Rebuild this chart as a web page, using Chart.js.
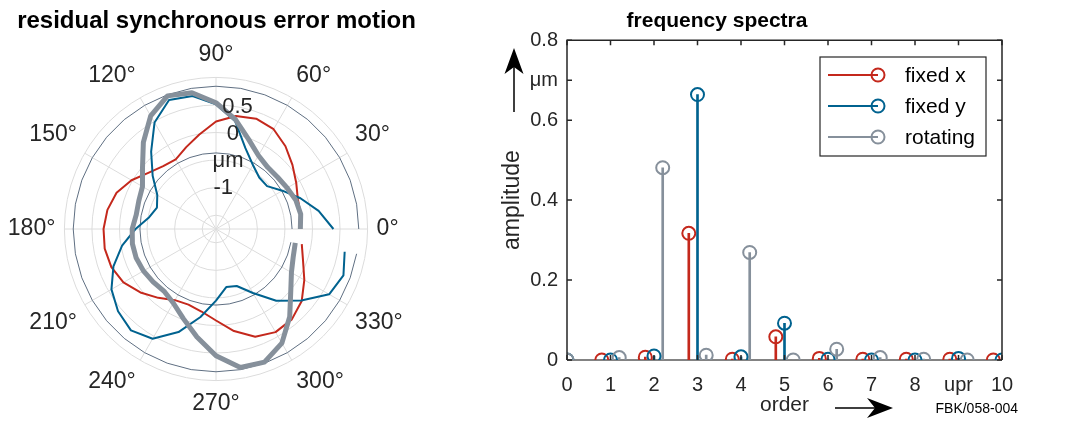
<!DOCTYPE html>
<html>
<head>
<meta charset="utf-8">
<script src="https://cdn.jsdelivr.net/npm/chart.js@4.4.1/dist/chart.umd.min.js"></script>
<style>
    body { margin: 0; background: #fff; }
    #polarBox { position: absolute; left: 0; top: 0; width: 433px; height: 421px; }
    #spectraBox { position: absolute; left: 432px; top: 0; width: 649px; height: 421px; }
</style>
</head>
<body>
<div id="polarBox"><canvas id="chartPolar" width="433" height="421"></canvas></div>
<div id="spectraBox"><canvas id="chartSpectra" width="649" height="421"></canvas></div>
<script>
/* --- polar plot data: radius in µm, every 10 deg ------------------------- */
const angles = [0, 10, 20, 30, 40, 50, 60, 70, 80, 90, 100, 110, 120, 130, 140, 150, 160, 170,
    180, 190, 200, 210, 220, 230, 240, 250, 260, 270, 280, 290, 300, 310, 320, 330, 340, 350];

const polarFixedX = [-0.21, -0.19, -0.17, -0.07, 0.06, 0.21, 0.34, 0.38, 0.33, 0.20,
    -0.01, -0.17, -0.29, -0.26, -0.16, 0.02, 0.17, 0.25, 0.29, 0.30,
    0.27, 0.19, 0.04, -0.12, -0.26, -0.29, -0.23, -0.09, 0.13, 0.33,
    0.41, 0.39, 0.28, 0.10, -0.07, -0.17];

const polarFixedY = [0.38, 0.14, -0.12, -0.36, -0.54, -0.53, -0.41, -0.19, 0.24, 0.51,
    0.70, 0.74, 0.48, 0.08, -0.25, -0.52, -0.61, -0.52, -0.29, -0.02,
    0.23, 0.44, 0.57, 0.65, 0.55, 0.24, -0.13, -0.45, -0.68, -0.65,
    -0.41, -0.05, 0.27, 0.62, 0.71, 0.62];

const polarRotating = [-0.22, -0.19, -0.21, -0.26, -0.29, -0.29, -0.21, -0.02, 0.27, 0.54,
    0.76, 0.82, 0.62, 0.30, -0.01, -0.21, -0.26, -0.28, -0.23, -0.21,
    -0.21, -0.23, -0.26, -0.28, -0.20, -0.02, 0.24, 0.55, 0.80, 0.82,
    0.64, 0.33, 0.02, -0.17, -0.26, -0.29];

const refCircleOuter = 0.84;
const refCircleInner = -0.37;

const rGridValues = [-1.75, -1.5, -1, -0.5, 0, 0.5, 1];
const rLabelValues = [-1, -0.5, 0, 0.5];
const rLabelTexts = ['-1', 'μm', '0', '0.5'];

/* --- spectrum data ------------------------------------------------------- */
const orders = [0, 1, 2, 3, 4, 5, 6, 7, 8, 9, 10];
const orderLabels = ['0', '1', '2', '3', '4', '5', '6', '7', '8', 'upr', '10'];
const ampFixedX = [null, 0.000, 0.007, 0.317, 0.002, 0.058, 0.004, 0.002, 0.002, 0.002, 0.000];
const ampFixedY = [0.000, 0.000, 0.010, 0.664, 0.008, 0.092, 0.002, 0.000, 0.000, 0.004, 0.000];
const ampRotating = [0.000, 0.006, 0.481, 0.012, 0.269, 0.000, 0.027, 0.006, 0.002, 0.000, null];
const yTickValues = [0, 0.2, 0.4, 0.6, 0.7, 0.8];
const yTickLabels = ['0', '0.2', '0.4', '0.6', 'μm', '0.8'];

/* --- styles ---------------------------------------------------------------- */
const RED = '#c4281c';
const BLUE = '#00628f';
const GRAY = '#86909b';
const REF = '#5f6f82';
const TXT = '#262626';
const FONT = '"Liberation Sans", Arial, sans-serif';

Chart.defaults.font.family = FONT;
Chart.defaults.color = TXT;
Chart.defaults.animation = false;

/* --- polar chart (radar, clockwise from 350 deg down to 0 deg) ------------ */
const radarAngles = angles.map((a, i) => 350 - 10 * i);
// radar index i sits at angle 350 - 10 i; trailing null keeps the curve open at 350..360
const toRadar = vals => [...vals].reverse().concat([null]);
const circle = v => toRadar(angles.map(() => v));

const radialLabels = {
    id: 'radialLabels',
    afterDatasetsDraw(chart) {
        const r = chart.scales.r;
        const a = 80 * Math.PI / 180;
        const ctx = chart.ctx;
        ctx.save();
        ctx.font = '22px ' + FONT;
        ctx.fillStyle = TXT;
        ctx.textAlign = 'center';
        ctx.textBaseline = 'middle';
        rLabelValues.forEach((v, i) => {
            const d = r.getDistanceFromCenterForValue(v);
            ctx.fillText(rLabelTexts[i], r.xCenter + d * Math.cos(a), r.yCenter - d * Math.sin(a));
        });
        ctx.restore();
    }
};

function polarSet(label, data, color, width, order) {
    return { label, data, borderColor: color, borderWidth: width, fill: false,
        pointRadius: 0, pointHoverRadius: 0, borderJoinStyle: 'round', order };
}

// the trailing spaces on 0° balance the wide 180° label, so the circle stays centred
const angleLabel = v => (v === 0 ? '0°    ' : (v % 30 === 0 ? v + '°' : ''));

new Chart(document.getElementById('chartPolar'), {
    type: 'radar',
    data: {
        labels: radarAngles,
        datasets: [
            polarSet('rotating', toRadar(polarRotating), GRAY, 5, 0),
            polarSet('fixed y', toRadar(polarFixedY), BLUE, 2, 1),
            polarSet('fixed x', toRadar(polarFixedX), RED, 2, 2),
            polarSet('inner', circle(refCircleInner), REF, 1, 3),
            polarSet('outer', circle(refCircleOuter), REF, 1, 4)
        ]
    },
    options: {
        responsive: false,
        layout: { padding: { bottom: 2 } },
        plugins: {
            legend: { display: false },
            tooltip: { enabled: false },
            title: {
                display: true,
                text: 'residual synchronous error motion',
                color: '#000',
                font: { size: 24, weight: 'bold' },
                padding: { top: 7, bottom: 5 }
            }
        },
        scales: {
            r: {
                min: -1.75,
                max: 1,
                startAngle: 100,
                afterBuildTicks: s => { s.ticks = rGridValues.map(v => ({ value: v })); },
                ticks: { display: false },
                grid: { circular: true, color: '#dcdcdc', lineWidth: 1 },
                angleLines: {
                    color: c => (radarAngles[c.index] % 30 === 0 ? '#dcdcdc' : 'transparent')
                },
                pointLabels: {
                    padding: 9,
                    color: TXT,
                    font: { size: 23 },
                    callback: angleLabel
                }
            }
        }
    },
    plugins: [radialLabels]
});

/* --- spectrum chart ------------------------------------------------------ */
const shift = { fixedX: -0.2, fixedY: 0, rotating: 0.2 };
function stemPoints(values, s) {
    const pts = [];
    orders.forEach((o, i) => {
        if (values[i] === null) return;
        pts.push({ x: o === 0 ? 0 : o + s, y: values[i] });
    });
    return pts;
}

const seriesList = [
    { label: 'fixed x', values: ampFixedX, s: shift.fixedX, color: RED, order: 2 },
    { label: 'fixed y', values: ampFixedY, s: shift.fixedY, color: BLUE, order: 1 },
    { label: 'rotating', values: ampRotating, s: shift.rotating, color: GRAY, order: 0 }
];

const spectraSets = [];
seriesList.forEach(sr => {
    const pts = stemPoints(sr.values, sr.s);
    spectraSets.push({
        type: 'bar', label: sr.label + ' stem', data: pts, backgroundColor: sr.color,
        borderWidth: 0, barThickness: 2, grouped: false, order: 10 + sr.order
    });
    spectraSets.push({
        type: 'scatter', label: sr.label, data: pts, borderColor: sr.color,
        backgroundColor: 'rgba(0,0,0,0)', pointRadius: 6.5, pointHoverRadius: 6.5,
        pointBorderWidth: 2, showLine: false, order: sr.order
    });
});

const frameTicks = {
    id: 'frameTicks',
    beforeDatasetsDraw(chart) {
        const { ctx, chartArea: a, scales: { y } } = chart;
        const y0 = y.getPixelForValue(0);
        ctx.save();
        ctx.strokeStyle = '#5a5a5a';
        ctx.lineWidth = 1.5;
        ctx.beginPath();
        ctx.moveTo(a.left, y0);
        ctx.lineTo(a.right, y0);
        ctx.stroke();
        ctx.restore();
    },
    afterDatasetsDraw(chart) {
        const { ctx, chartArea: a, scales: { x, y } } = chart;
        const tl = 5;
        ctx.save();
        ctx.strokeStyle = TXT;
        ctx.lineWidth = 1.5;
        ctx.beginPath();
        ctx.moveTo(a.left, a.bottom);
        ctx.lineTo(a.left, a.top);
        ctx.lineTo(a.right, a.top);
        ctx.lineTo(a.right, a.bottom);
        ctx.stroke();
        ctx.beginPath();
        orders.forEach(o => {
            const px = x.getPixelForValue(o);
            ctx.moveTo(px, a.bottom); ctx.lineTo(px, a.bottom - tl);
            ctx.moveTo(px, a.top); ctx.lineTo(px, a.top + tl);
        });
        yTickValues.forEach(v => {
            const py = y.getPixelForValue(v);
            ctx.moveTo(a.left, py); ctx.lineTo(a.left + tl, py);
            ctx.moveTo(a.right, py); ctx.lineTo(a.right - tl, py);
        });
        ctx.stroke();
        ctx.restore();
    },
    afterDraw(chart) {
        const ctx = chart.ctx;
        ctx.save();
        // legend box
        const bx = 388, by = 57, bw = 166, bh = 99;
        ctx.fillStyle = '#fff';
        ctx.fillRect(bx, by, bw, bh);
        ctx.strokeStyle = TXT;
        ctx.lineWidth = 1.2;
        ctx.strokeRect(bx, by, bw, bh);
        ctx.font = '21px ' + FONT;
        ctx.textAlign = 'left';
        ctx.textBaseline = 'middle';
        seriesList.forEach((sr, i) => {
            const ry = 75 + i * 31;
            ctx.strokeStyle = sr.color;
            ctx.lineWidth = 2;
            ctx.beginPath();
            ctx.moveTo(396, ry);
            ctx.lineTo(446, ry);
            ctx.stroke();
            ctx.beginPath();
            ctx.arc(446, ry, 6.5, 0, Math.PI * 2);
            ctx.stroke();
            ctx.fillStyle = '#000';
            ctx.fillText(sr.label, 473, ry + 1);
        });

        // arrows
        ctx.fillStyle = '#000';
        ctx.strokeStyle = '#000';
        ctx.lineWidth = 1.5;
        ctx.beginPath();
        ctx.moveTo(82, 112); ctx.lineTo(82, 66);
        ctx.moveTo(403, 408); ctx.lineTo(444, 408);
        ctx.stroke();
        ctx.beginPath();
        ctx.moveTo(82, 48); ctx.lineTo(72.5, 74); ctx.lineTo(82, 67); ctx.lineTo(91.5, 74);
        ctx.closePath();
        ctx.fill();
        ctx.beginPath();
        ctx.moveTo(461, 408); ctx.lineTo(435, 398); ctx.lineTo(443, 408); ctx.lineTo(435, 418);
        ctx.closePath();
        ctx.fill();

        ctx.font = '14px ' + FONT;
        ctx.textAlign = 'right';
        ctx.fillText('FBK/058-004', 586, 409);
        ctx.restore();
    }
};

new Chart(document.getElementById('chartSpectra'), {
    type: 'scatter',
    data: { datasets: spectraSets },
    options: {
        responsive: false,
        layout: { padding: { left: 0, right: 79, top: 0, bottom: 0 } },
        plugins: {
            legend: { display: false },
            tooltip: { enabled: false },
            title: {
                display: true,
                text: 'frequency spectra',
                color: '#000',
                font: { size: 21, weight: 'bold' },
                padding: { top: 9, bottom: 6 }
            }
        },
        scales: {
            x: {
                type: 'linear',
                min: 0,
                max: 10,
                offset: false,
                afterBuildTicks: s => { s.ticks = orders.map(v => ({ value: v })); },
                afterFit: s => { s.height = 61; },
                grid: { display: false, drawTicks: false },
                border: { display: false },
                ticks: {
                    autoSkip: false,
                    maxRotation: 0,
                    padding: 13,
                    color: TXT,
                    font: { size: 20 },
                    callback: (v, i) => orderLabels[i]
                },
                title: { display: true, text: 'order', color: TXT, font: { size: 21 }, padding: { top: 0, bottom: 3 } }
            },
            y: {
                min: 0,
                max: 0.8,
                afterBuildTicks: s => { s.ticks = yTickValues.map(v => ({ value: v })); },
                afterFit: s => { s.width = 135; },
                grid: { display: false, drawTicks: false },
                border: { display: false },
                ticks: {
                    padding: 9,
                    color: TXT,
                    font: { size: 20 },
                    callback: (v, i) => yTickLabels[i]
                },
                title: { display: true, text: 'amplitude', color: TXT, font: { size: 23 }, padding: { top: 67, bottom: 0 } }
            }
        }
    },
    plugins: [frameTicks]
});
</script>
</body>
</html>
